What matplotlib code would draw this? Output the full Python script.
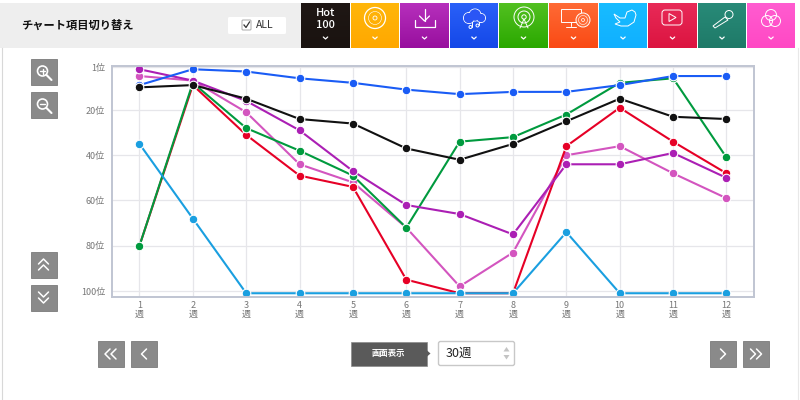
import numpy as np
import matplotlib
matplotlib.use('Agg')
import matplotlib.pyplot as plt
from matplotlib.patches import Rectangle, Circle, FancyBboxPatch, Polygon, Ellipse

plt.rcParams['font.family'] = ['Noto Sans CJK JP', 'DejaVu Sans']

weeks = [1, 2, 3, 4, 5, 6, 7, 8, 9, 10, 11, 12]
rank_pink = [5, 7, 21, 44, 52, 72, 98, 83, 40, 36, 48, 59]
rank_red = [80, 9, 31, 49, 54, 95, 101, 101, 36, 19, 34, 48]
rank_green = [80, 8, 28, 38, 49, 72, 34, 32, 22, 8, 6, 41]
rank_purple = [2, 7, 16, 29, 47, 62, 66, 75, 44, 44, 39, 50]
rank_blue = [9, 2, 3, 6, 8, 11, 13, 12, 12, 9, 5, 5]
rank_black = [10, 9, 15, 24, 26, 37, 42, 35, 25, 15, 23, 24]
rank_cyan = [35, 68, 101, 101, 101, 101, 101, 101, 74, 101, 101, 101]

series = [(rank_pink, '#d355bf'), (rank_red, '#e60026'), (rank_green, '#009a3e'),
          (rank_purple, '#ab1fb4'), (rank_blue, '#1a5cf5'), (rank_black, '#111111'),
          (rank_cyan, '#1a9fe0')]

y_ticks = [1, 20, 40, 60, 80, 100]
y_labels = ['1位', '20位', '40位', '60位', '80位', '100位']
x_labels = [str(w) + '\n週' for w in weeks]

tab_colors = [('#1f1714', '#1a1310'), ('#ffb60a', '#ffa800'), ('#b62fbc', '#980f9e'),
              ('#2a60f8', '#1448e8'), ('#52c020', '#2aa800'), ('#ff6a35', '#fa4a14'),
              ('#18bcff', '#10b0ff'), ('#e82a58', '#dc1440'), ('#288a78', '#1f7a68'),
              ('#ff5cd0', '#ff48c4')]
tab_edges = [301, 351, 400, 450, 499, 549, 599, 648, 698, 747, 796]

fig = plt.figure(figsize=(8, 4), dpi=100, facecolor='white')

# page furniture, in pixels
ui = fig.add_axes([0, 0, 1, 1], zorder=0)
ui.set_xlim(0, 800)
ui.set_ylim(400, 0)
ui.axis('off')

ui.add_patch(Rectangle((0, 3), 301, 45, fc='#eeeeee', ec='none'))
ui.plot([1.5, 1.5], [48, 400], color='#d8d8d8', lw=0.8)
ui.plot([797.5, 797.5], [48, 400], color='#e8e8e8', lw=0.8)
ui.text(21, 25, 'チャート項目切り替え', fontsize=8.1, fontweight='bold', color='#111111', va='center')
ui.add_patch(FancyBboxPatch((228, 17), 58, 17, boxstyle='round,pad=0,rounding_size=1.5', fc='white', ec='none'))
ui.add_patch(FancyBboxPatch((242, 20), 9, 10, boxstyle='round,pad=0,rounding_size=1', fc='white', ec='#aaaaaa', lw=0.7))
ui.plot([244, 246, 249.5], [25, 27.5, 22], color='#333333', lw=0.9)
ui.text(256, 25.5, 'ALL', fontsize=7.5, color='#333333', va='center')

W = '#ffffff'


def ring(x, y, r, lw=0.7):
    ui.add_patch(Circle((x, y), r, fc='none', ec=W, lw=lw, zorder=3))


def stroke(xs, ys, lw=0.7):
    ui.plot(xs, ys, color=W, lw=lw, zorder=3, solid_capstyle='round')


for i, (top, bot) in enumerate(tab_colors):
    x0 = tab_edges[i]
    x1 = tab_edges[i + 1] - 1
    rgb_t = np.array(matplotlib.colors.to_rgb(top))
    rgb_b = np.array(matplotlib.colors.to_rgb(bot))
    t = np.linspace(0, 1, 45)[:, None, None]
    ui.imshow(rgb_t * (1 - t) + rgb_b * t, extent=(x0, x1, 48, 3), aspect='auto', zorder=2)
    cx = (x0 + x1) / 2
    stroke([cx - 2.2, cx, cx + 2.2], [37, 39, 37], lw=0.9)

ui.set_xlim(0, 800)
ui.set_ylim(400, 0)

# tab icons
cx = (tab_edges[0] + tab_edges[1] - 1) / 2
ui.text(cx, 13, 'Hot', color=W, fontsize=8, ha='center', va='center', fontweight='medium', zorder=3)
ui.text(cx, 25, '100', color=W, fontsize=8, ha='center', va='center', fontweight='medium', zorder=3)

ring(375, 18, 10.5, 0.9)
ring(375, 18, 2, 0.6)
ring(375, 18, 6.5, 0.4)

stroke([424.5, 424.5], [9, 21], 0.9)
stroke([419.5, 424.5, 429.5], [16, 21, 16], 0.9)
stroke([414.5, 414.5, 434.5, 434.5], [20, 27, 27, 20], 0.9)

# cloud: outlines first, then the same blue over the insides
for cloud_x, cloud_y, cloud_r in [(469, 18, 5.5), (475, 15, 6), (481, 18, 4.5)]:
    ring(cloud_x, cloud_y, cloud_r)
for cloud_x, cloud_y, cloud_r in [(469, 18, 5.1), (475, 15, 5.6), (481, 18, 4.1)]:
    ui.add_patch(Circle((cloud_x, cloud_y), cloud_r, fc='#2a56f5', ec='none', zorder=3.2))
stroke([472, 472], [20, 27])
stroke([479, 479], [19, 25])
stroke([472, 479], [20, 19])
ring(470.5, 27, 1.5)
ring(477.5, 25.5, 1.5)

ring(524, 17, 2.2)
ring(524, 17, 6)
ring(524, 17, 10)
stroke([520, 524, 528], [28, 19, 28])

ui.add_patch(Rectangle((561, 9), 20, 13, fc='none', ec=W, lw=0.7, zorder=3))
stroke([571, 571], [22, 26])
stroke([566, 576], [26.5, 26.5])
ui.add_patch(Circle((583, 20), 7, fc='#ff6a35', ec=W, lw=0.7, zorder=3))
ring(583, 20, 1.5, 0.5)
ring(583, 20, 4.5, 0.4)

ui.add_patch(Polygon([(614, 14), (620, 18), (625, 18), (627, 12), (632, 10), (635, 12), (636, 15),
                      (634, 22), (628, 26), (621, 26), (615, 24), (620, 22), (616, 18)],
                     fc='none', ec=W, lw=0.7, zorder=3))

ui.add_patch(FancyBboxPatch((662, 10), 20, 15, boxstyle='round,pad=0,rounding_size=3', fc='none', ec=W, lw=0.7, zorder=3))
ui.add_patch(Polygon([(669, 13.5), (676, 17.5), (669, 21.5)], fc='none', ec=W, lw=0.7, zorder=3))

ui.add_patch(Ellipse((729, 14.5), 8, 8, fc='none', ec=W, lw=0.7, zorder=3))
ui.add_patch(Polygon([(725, 17), (728, 20), (715, 28), (713, 26)], fc='none', ec=W, lw=0.7, zorder=3))

ring(771, 15, 5.5)
ring(767, 21, 5.5)
ring(775, 21, 5.5)


def gray_button(x, y, kind):
    ui.add_patch(Rectangle((x, y), 26, 26, fc='#8a8a8a', ec='#7a7a7a', lw=0.6))
    mx = x + 13
    my = y + 13
    if kind == 'plus' or kind == 'minus':
        ring(mx - 1, my - 1, 5, 1.2)
        stroke([mx + 3, mx + 8], [my + 3, my + 8], 1.5)
        stroke([mx - 3.5, mx + 1.5], [my - 1, my - 1], 1.0)
        if kind == 'plus':
            stroke([mx - 1, mx - 1], [my - 3.5, my + 1.5], 1.0)
    elif kind in ('up2', 'down2'):
        s = 1 if kind == 'up2' else -1
        for d in (-3.5, 2.5):
            stroke([mx - 5, mx, mx + 5], [my + d + 2.5 * s, my + d - 2.5 * s, my + d + 2.5 * s], 1.1)
    elif kind in ('left2', 'right2'):
        s = 1 if kind == 'left2' else -1
        for d in (-3, 3):
            stroke([mx + d + 2.5 * s, mx + d - 2.5 * s, mx + d + 2.5 * s], [my - 5, my, my + 5], 1.1)
    else:
        s = 1 if kind == 'left' else -1
        stroke([mx + 2.5 * s, mx - 2.5 * s, mx + 2.5 * s], [my - 5, my, my + 5], 1.1)


gray_button(30.5, 59, 'plus')
gray_button(30.5, 92, 'minus')
gray_button(30.5, 252, 'up2')
gray_button(30.5, 285, 'down2')
gray_button(97.5, 341, 'left2')
gray_button(131, 341, 'left')
gray_button(710, 341, 'right')
gray_button(743, 341, 'right2')

ui.add_patch(Rectangle((350.5, 341.5), 76, 24, fc='#5a5a5a', ec='#8a8a8a', lw=0.5))
ui.add_patch(Polygon([(426.5, 350), (430.5, 353.5), (426.5, 357)], fc='#5a5a5a', ec='none'))
ui.text(388, 353.5, '画面表示', color=W, fontsize=6, ha='center', va='center', fontweight='bold')
ui.add_patch(FancyBboxPatch((438.5, 341.5), 76, 24, boxstyle='round,pad=0,rounding_size=2', fc='white', ec='#c8c8c8', lw=1))
ui.text(446, 353.5, '30週', color='#222222', fontsize=9, va='center')
ui.add_patch(Polygon([(503.5, 351.5), (506.5, 347), (509.5, 351.5)], fc='#c4c4c4', ec='none'))
ui.add_patch(Polygon([(503.5, 355), (506.5, 359.5), (509.5, 355)], fc='#c4c4c4', ec='none'))

# chart
ax = fig.add_axes([112 / 800, (400 - 297) / 400, 642 / 800, 231 / 400], zorder=1)
ax.patch.set_alpha(0)
ax.set_xlim(0.485, 12.516)
ax.set_ylim(102.66, 0.56)
ax.grid(color='#e6e6ea', lw=0.9)
ax.set_axisbelow(True)
ax.set_xticks(weeks)
ax.set_xticklabels(x_labels, fontsize=6.5, color='#777777', linespacing=1.0)
ax.set_yticks(y_ticks)
ax.set_yticklabels(y_labels, fontsize=6.5, color='#777777')
ax.tick_params(axis='x', length=0, pad=3)
ax.tick_params(axis='y', length=0, pad=5)
for side in ax.spines.values():
    side.set_color('#c0c5d2')
    side.set_linewidth(1.4)

for ranks, color in series:
    ax.plot(weeks, ranks, color=color, lw=1.5, marker='o', ms=6.2, mfc=color,
            mec='white', mew=0.8, clip_on=False, solid_joinstyle='round')

fig.savefig('out.png', dpi=100)
